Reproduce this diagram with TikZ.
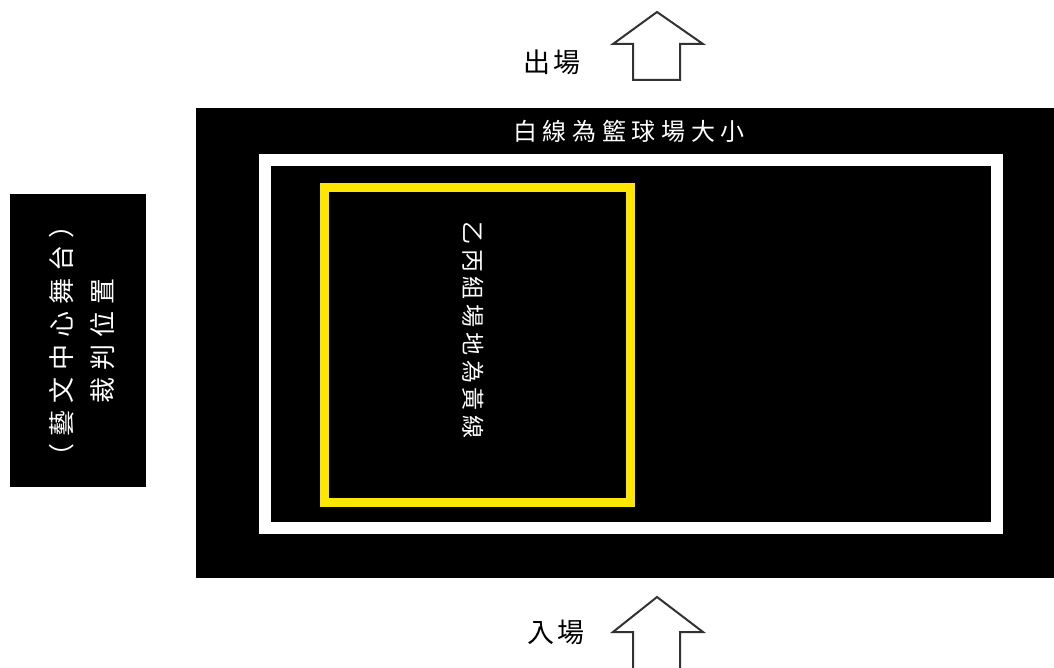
\documentclass[tikz,border=0pt]{standalone}
\usepackage{fontspec}
\newfontfamily\cjk{Noto Sans CJK TC}
\newlength\cjkgap
\newcommand\gp{\hspace{\cjkgap}}
\definecolor{lineyellow}{RGB}{255,230,0}
\definecolor{arrowgray}{RGB}{50,50,50}
\begin{document}
\begin{tikzpicture}[x=1pt,y=-1pt,
  whitetext/.style={text=white,inner sep=0pt},
  arrowline/.style={draw=arrowgray,line width=2pt,line join=miter,fill=white},
  label/.style={text=black,inner sep=0pt,font=\cjk\fontsize{27}{27}\selectfont}]
\useasboundingbox (0,0) rectangle (1054,668);
% court background
\fill[black] (196,108) rectangle (1054,578);
\draw[white,line width=12pt] (264.5,160) rectangle (996.5,528);
\draw[lineyellow,line width=9pt] (324.5,187.5) rectangle (630,502.5);
% referee box
\fill[black] (10,194) rectangle (146,487);
% arrows
\draw[arrowline] (657,12) -- (703,44) -- (680,44) -- (680,80) -- (633,80) -- (633,44) -- (613,44) -- cycle;
\fill[white] (633,632) rectangle (680,668);
\draw[arrowline] (633,668) -- (633,632) -- (613,632) -- (657,597) -- (703,632) -- (680,632) -- (680,668);
% texts
\node[label] (out) at (552,62) {出\hspace{3pt}場};
\node[label] (in) at (556,632) {入\hspace{3pt}場};
\node[whitetext,font=\cjk\fontsize{24}{24}\selectfont] (title) at (629,131)
  {\setlength\cjkgap{5.7pt}白\gp 線\gp 為\gp 籃\gp 球\gp 場\gp 大\gp 小};
\node[whitetext,rotate=-90,font=\cjk\fontsize{23}{23}\selectfont] (mid) at (473,330)
  {\setlength\cjkgap{4.7pt}乙\gp 丙\gp 組\gp 場\gp 地\gp 為\gp 黃\gp 線};
\node[whitetext,rotate=90,align=center,font=\cjk\fontsize{26}{41}\selectfont] (ref) at (82,341)
  {\setlength\cjkgap{7pt}（\gp 藝\gp 文\gp 中\gp 心\gp 舞\gp 台\gp ）\\\setlength\cjkgap{7pt}裁\gp 判\gp 位\gp 置};
\end{tikzpicture}
\end{document}
